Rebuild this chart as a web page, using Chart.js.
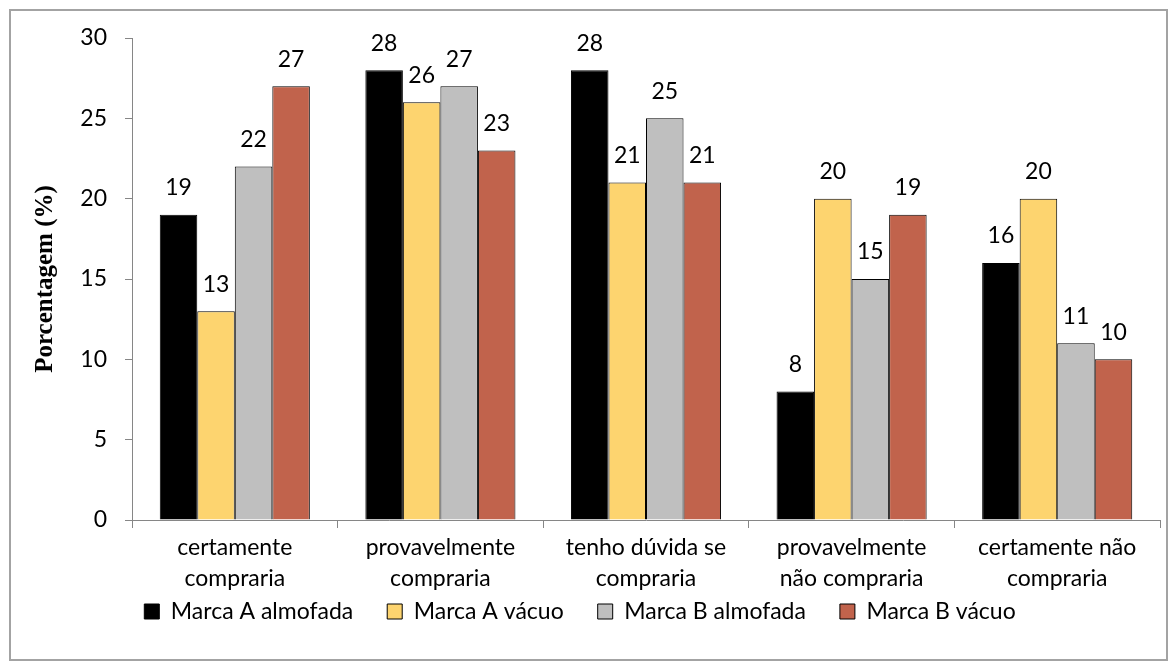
<!DOCTYPE html>
<html><head><meta charset="utf-8">
<script src="https://cdn.jsdelivr.net/npm/chart.js@4"></script>
<style>
html,body{margin:0;padding:0;background:#fff;overflow:hidden;}
#wrap{position:absolute;left:0;top:0;width:1176px;height:670px;overflow:hidden;}
#frame{position:absolute;left:9px;top:9px;width:1159px;height:652px;border:2px solid #a3a3a3;box-sizing:border-box;pointer-events:none;}
canvas{position:absolute;left:0;top:0;}
</style></head>
<body>
<div id="wrap"><canvas id="c" width="1176" height="670"></canvas><div id="frame"></div></div>
<script>
const categories = [
  ["certamente", "compraria"],
  ["provavelmente", "compraria"],
  ["tenho dúvida se", "compraria"],
  ["provavelmente", "não compraria"],
  ["certamente não", "compraria"]
];
const marcaAAlmofada = [19, 28, 28, 8, 16];
const marcaAVacuo = [13, 26, 21, 20, 20];
const marcaBAlmofada = [22, 27, 25, 15, 11];
const marcaBVacuo = [27, 23, 21, 19, 10];
const yTicks = [0, 5, 10, 15, 20, 25, 30];

const FONT = "Lato, 'Open Sans', sans-serif";
const LEGEND_SHIFT = 34;

const labelPlugin = {
  id: 'barLabels',
  afterDatasetsDraw(chart) {
    const ctx = chart.ctx;
    ctx.save();
    ctx.font = "23px " + FONT;
    ctx.fillStyle = "#000";
    ctx.textAlign = "center";
    ctx.textBaseline = "middle";
    chart.data.datasets.forEach((ds, i) => {
      const meta = chart.getDatasetMeta(i);
      meta.data.forEach((bar, j) => {
        ctx.fillText(String(ds.data[j]), bar.x, bar.y - 27);
      });
    });
    ctx.restore();
  }
};

const legendShift = {
  id: 'legendShift',
  afterLayout(chart) {
    const l = chart.legend;
    if (l) { l.top -= LEGEND_SHIFT; l.bottom -= LEGEND_SHIFT; }
  }
};

new Chart(document.getElementById('c'), {
  type: 'bar',
  data: {
    labels: categories,
    datasets: [
      {label: 'Marca A almofada', data: marcaAAlmofada, backgroundColor: '#000000'},
      {label: 'Marca A vácuo', data: marcaAVacuo, backgroundColor: '#FDD46F'},
      {label: 'Marca B almofada', data: marcaBAlmofada, backgroundColor: '#BFBFBF'},
      {label: 'Marca B vácuo', data: marcaBVacuo, backgroundColor: '#C1634C'}
    ].map(d => Object.assign(d, {borderColor: '#000', borderWidth: 1, categoryPercentage: 0.73, barPercentage: 1}))
  },
  options: {
    responsive: false,
    animation: false,
    devicePixelRatio: 1,
    layout: {padding: {left: 0, right: 16, top: 38, bottom: 3}},
    plugins: {
      legend: {
        position: 'bottom',
        labels: {
          font: {family: FONT, size: 23},
          color: '#000',
          boxWidth: 15,
          boxHeight: 15,
          padding: 34,
          generateLabels(chart) {
            return chart.data.datasets.map((d, i) => ({
              text: d.label, fillStyle: d.backgroundColor, strokeStyle: '#000', lineWidth: 1, datasetIndex: i
            }));
          }
        }
      },
      tooltip: {enabled: false}
    },
    scales: {
      x: {
        grid: {display: true, drawOnChartArea: false, drawTicks: true, tickLength: 8, color: '#868686', offset: true},
        border: {color: '#868686', width: 1},
        ticks: {font: {family: FONT, size: 23, lineHeight: 1.35}, color: '#000', padding: 4, maxRotation: 0, autoSkip: false},
        afterFit(s) { s.height = 80; }
      },
      y: {
        min: 0, max: 30,
        afterBuildTicks(s) { s.ticks = yTicks.map(v => ({value: v})); },
        grid: {display: true, drawOnChartArea: false, drawTicks: true, tickLength: 7, color: '#868686'},
        border: {color: '#868686', width: 1},
        ticks: {font: {family: FONT, size: 23}, color: '#000', padding: 18},
        title: {display: true, text: 'Porcentagem (%)', font: {family: "'Liberation Serif', 'Times New Roman', serif", size: 25, weight: 'bold'}, color: '#000', padding: {top: 31, bottom: 0}},
        afterFit(s) { s.width = 132; }
      }
    }
  },
  plugins: [labelPlugin, legendShift]
});
</script>
</body></html>
